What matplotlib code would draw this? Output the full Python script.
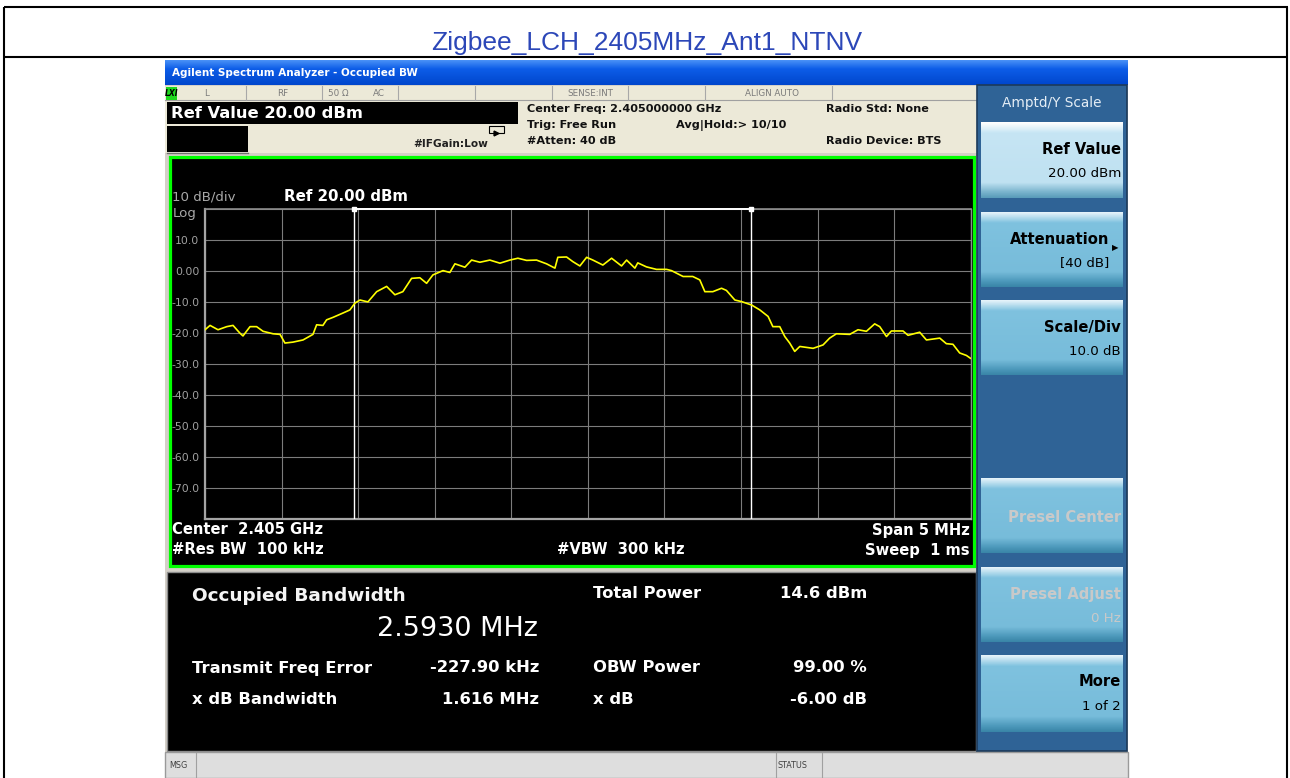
import numpy as np
import matplotlib.pyplot as plt
from matplotlib.patches import Rectangle
from matplotlib.colors import LinearSegmentedColormap

W, H = 1290, 778

# trace: offset from centre (MHz) and level (dBm)
freq_offset_mhz = [
    -2.500, -2.467, -2.415, -2.358, -2.317, -2.272, -2.252, -2.206, -2.163, -2.121,
    -2.056, -2.010, -1.978, -1.926, -1.860, -1.795, -1.771, -1.730, -1.706, -1.664,
    -1.599, -1.554, -1.521, -1.488, -1.436, -1.379, -1.314, -1.260, -1.208, -1.151,
    -1.097, -1.053, -1.012, -0.946, -0.901, -0.868, -0.803, -0.759, -0.705, -0.640,
    -0.574, -0.509, -0.457, -0.400, -0.335, -0.270, -0.215, -0.196, -0.139, -0.098,
    -0.052, -0.008, 0.033, 0.098, 0.155, 0.220, 0.253, 0.307, 0.326, 0.383,
    0.448, 0.514, 0.546, 0.622, 0.685, 0.731, 0.764, 0.816, 0.873, 0.905,
    0.960, 1.003, 1.069, 1.123, 1.177, 1.208, 1.253, 1.286, 1.318, 1.351,
    1.384, 1.471, 1.536, 1.579, 1.623, 1.710, 1.764, 1.819, 1.873, 1.906,
    1.950, 1.982, 2.058, 2.091, 2.167, 2.211, 2.298, 2.341, 2.384, 2.428,
    2.472, 2.498,
]
level_dbm = [
    -19.0, -17.6, -19.0, -18.0, -17.6, -20.1, -21.0, -18.0, -18.0, -19.5,
    -20.3, -20.5, -23.3, -23.0, -22.3, -20.5, -17.4, -17.6, -15.8, -15.0,
    -13.6, -12.6, -10.4, -9.4, -10.0, -6.7, -5.0, -7.7, -6.7, -2.4,
    -2.2, -4.0, -1.3, 0.1, -0.5, 2.3, 1.2, 3.5, 2.8, 3.5,
    2.5, 3.5, 4.1, 3.4, 3.5, 2.3, 0.9, 4.4, 4.5, 3.0,
    1.6, 4.4, 3.5, 1.9, 4.1, 1.6, 3.5, 0.9, 2.6, 1.3,
    0.5, 0.5, 0.1, -1.8, -1.8, -2.9, -6.7, -6.7, -5.6, -6.3,
    -9.4, -9.9, -11.0, -12.6, -14.7, -18.0, -18.0, -21.2, -23.3, -26.0,
    -24.4, -25.0, -23.9, -21.7, -20.3, -20.5, -19.0, -19.5, -17.1, -18.0,
    -21.2, -19.4, -19.4, -20.8, -19.8, -22.3, -21.7, -23.5, -23.7, -26.5,
    -27.3, -28.2,
]

center_ghz = 2.405
span_mhz = 5.0
ref_level = 20.0
db_per_div = 10.0
obw_mhz = 2.5930
freq_error_khz = -227.90
y_tick_labels = ["", "10.0", "0.00", "-10.0", "-20.0", "-30.0", "-40.0",
                 "-50.0", "-60.0", "-70.0", ""]

status_cells = ["L", "RF", "50 \u03a9", "AC", "SENSE:INT", "ALIGN AUTO"]
softkey_titles = ["Ref Value", "Attenuation", "Scale/Div",
                  "Presel Center", "Presel Adjust", "More"]
softkey_values = ["20.00 dBm", "[40 dB]", "10.0 dB", "", "0 Hz", "1 of 2"]

result_left = [("Transmit Freq Error", f"{freq_error_khz:.2f} kHz"),
               ("x dB Bandwidth", "1.616 MHz")]
result_right = [("Total Power", "14.6 dBm"),
                ("OBW Power", "99.00 %"),
                ("x dB", "-6.00 dB")]


def box(ax, x0, y0, x1, y1, z=1, **kw):
    ax.add_patch(Rectangle((x0, y0), x1 - x0, y1 - y0, zorder=z, **kw))


def gradient(ax, x0, y0, x1, y1, stops, z=2):
    cmap = LinearSegmentedColormap.from_list("g", stops)
    ax.imshow(np.linspace(0, 1, 100).reshape(-1, 1), cmap=cmap,
              extent=(x0, x1, y1, y0), aspect="auto", zorder=z)


fig = plt.figure(figsize=(W / 100, H / 100), dpi=100)
bg = fig.add_axes([0, 0, 1, 1])
bg.set_axis_off()

# document table around the screenshot
for xs, ys in [([4, 1288], [7, 7]), ([4, 1288], [57, 57]),
               ([4, 4], [7, 778]), ([1287, 1287], [7, 778])]:
    bg.plot(xs, ys, color="black", lw=1.5, solid_capstyle="butt")
bg.text(647, 43, "Zigbee_LCH_2405MHz_Ant1_NTNV", ha="center", va="center",
        fontsize=19, color="#2c47b8", family="Liberation Sans")

# analyser window
box(bg, 165, 60, 1128, 778, facecolor="#d4d0c8")
gradient(bg, 165, 60, 1128, 85,
         [(0, "#4a92f7"), (0.35, "#0d5de8"), (1, "#0046cc")])
bg.text(172, 73, "Agilent Spectrum Analyzer - Occupied BW", va="center",
        fontsize=7.5, fontweight="bold", color="white", zorder=3)

# status strip and header
box(bg, 165, 86, 977, 153, facecolor="#ece9d8", z=2)
bg.plot([165, 977], [100, 100], color="#a0a0a0", lw=0.8, zorder=3)
for x in [246, 322, 398, 475, 552, 628, 705, 832]:
    bg.plot([x, x], [86, 100], color="#a8a8a8", lw=0.8, zorder=3)
for x, s in zip([207, 283, 338, 379, 590, 772], status_cells):
    bg.text(x, 93, s, ha="center", va="center", fontsize=6.3,
            color="#7a7a7a", zorder=3)
box(bg, 166, 87, 177, 100, facecolor="#1fd81f", z=3)
bg.text(171.5, 93.5, "LXI", ha="center", va="center", fontsize=5.5,
        fontweight="bold", fontstyle="italic", zorder=4)

box(bg, 167, 102, 518, 124, facecolor="black", z=3)
box(bg, 167, 126, 248, 152, facecolor="black", z=3)
bg.plot([167, 248], [153, 153], color="#707070", lw=1, zorder=3)
bg.text(171, 113, f"Ref Value {ref_level:.2f} dBm", va="center", fontsize=11.8,
        fontweight="bold", color="white", zorder=4)
bg.text(413, 144, "#IFGain:Low", va="center", fontsize=7.6,
        fontweight="bold", color="#202020", zorder=4)
bg.add_patch(Rectangle((489, 126), 15, 7, fill=False, ec="black", lw=0.8,
                       zorder=4))
bg.plot([496], [133], marker=">", ms=3.5, color="black", zorder=5)

info = [(527, 109, f"Center Freq: {center_ghz:.9f} GHz"),
        (527, 125, "Trig: Free Run"), (527, 141, "#Atten: 40 dB"),
        (676, 125, "Avg|Hold:> 10/10"), (826, 109, "Radio Std: None"),
        (826, 141, "Radio Device: BTS")]
for x, y, s in info:
    bg.text(x, y, s, va="center", fontsize=8.1, fontweight="bold",
            color="#111111", zorder=4)

# graticule frame
box(bg, 169.5, 156.5, 973.5, 565.5, facecolor="black", edgecolor="#00ff00",
    lw=2.3, z=3)
bg.text(172, 197, f"{db_per_div:.0f} dB/div", va="center", fontsize=9.6,
        color="#a8a8a8", zorder=4)
bg.text(173, 213, "Log", va="center", fontsize=9.6, color="#a8a8a8", zorder=4)
bg.text(284, 196, f"Ref {ref_level:.2f} dBm", va="center", fontsize=10.8,
        fontweight="bold", color="white", zorder=4)
bg.text(172, 530, f"Center  {center_ghz:.3f} GHz", va="center",
        fontsize=10.6, fontweight="bold", color="white", zorder=4)
bg.text(172, 550, "#Res BW  100 kHz", va="center", fontsize=10.6,
        fontweight="bold", color="white", zorder=4)
bg.text(557, 550, "#VBW  300 kHz", va="center", fontsize=10.6,
        fontweight="bold", color="white", zorder=4)
bg.text(970, 530, f"Span {span_mhz:.0f} MHz", ha="right", va="center",
        fontsize=10.6, fontweight="bold", color="white", zorder=4)
bg.text(970, 550, "Sweep  1 ms", ha="right", va="center", fontsize=10.6,
        fontweight="bold", color="white", zorder=4)

# result panel
box(bg, 167, 572, 976, 751, facecolor="black", edgecolor="#8c8c8c", lw=1, z=3)
bg.text(192, 596, "Occupied Bandwidth", va="center", fontsize=13.3,
        fontweight="bold", color="#f4f4f4", zorder=4)
bg.text(538, 629, f"{obw_mhz:.4f} MHz", ha="right", va="center",
        fontsize=19.5, color="white", zorder=4)
for y, (name, val) in zip([668, 700], result_left):
    bg.text(192, y, name, va="center", fontsize=11.8, fontweight="bold",
            color="white", zorder=4)
    bg.text(539, y, val, ha="right", va="center", fontsize=11.8,
            fontweight="bold", color="white", zorder=4)
for y, (name, val) in zip([593, 668, 700], result_right):
    bg.text(593, y, name, va="center", fontsize=11.8, fontweight="bold",
            color="white", zorder=4)
    bg.text(867, y, val, ha="right", va="center", fontsize=11.8,
            fontweight="bold", color="white", zorder=4)

# message bar
box(bg, 165, 752, 1128, 778, facecolor="#dedede", edgecolor="#9a9a9a",
    lw=1, z=3)
for x in [196, 776, 822]:
    bg.plot([x, x], [753, 778], color="#a0a0a0", lw=0.8, zorder=4)
bg.text(169, 765, "MSG", va="center", fontsize=5.8, color="#404040", zorder=4)
bg.text(778, 765, "STATUS", va="center", fontsize=5.8, color="#404040",
        zorder=4)

# softkey panel
box(bg, 977, 85, 1127, 751, facecolor="#2f6396", edgecolor="#1c3a5a",
    lw=1.2, z=3)
bg.text(1052, 103, "Amptd/Y Scale", ha="center", va="center", fontsize=9.8,
        color="#e4edf5", zorder=4)
key_rows = [(122, 198), (212, 287), (300, 375), (478, 553), (567, 642),
            (655, 732)]
for i, ((y0, y1), title, value) in enumerate(zip(key_rows, softkey_titles,
                                                  softkey_values)):
    if i == 0:
        stops = [(0, "#ffffff"), (0.14, "#c6e5f4"), (0.8, "#bfe1f1"),
                 (0.92, "#7db6cf"), (1, "#5a9cba")]
    else:
        stops = [(0, "#e6f3fa"), (0.14, "#7fc2df"), (0.8, "#77bcda"),
                 (0.92, "#4f9bbd"), (1, "#3a86a8")]
    gradient(bg, 981, y0, 1123, y1, stops, z=4)
    txt = "#c9c9c9" if title.startswith("Presel") else "black"
    right = 1109 if title == "Attenuation" else 1121
    if value:
        bg.text(right, y0 + 27, title, ha="right", va="center", fontsize=10.6,
                fontweight="bold", color=txt, zorder=5)
        bg.text(right, y0 + 51, value, ha="right", va="center", fontsize=9.6,
                color=txt, zorder=5)
    else:
        bg.text(right, y0 + 39, title, ha="right", va="center", fontsize=10.6,
                fontweight="bold", color=txt, zorder=5)
bg.text(1112, 248, "\u25b6", ha="left", va="center", fontsize=6, zorder=5)

bg.set_xlim(0, W)
bg.set_ylim(H, 0)

# spectrum graticule
gx0, gx1, gy0, gy1 = 205, 970.7, 209, 518.6
ax = fig.add_axes([gx0 / W, 1 - gy1 / H, (gx1 - gx0) / W, (gy1 - gy0) / H])
ax.set_facecolor("black")
ax.set_xlim(-span_mhz / 2, span_mhz / 2)
ax.set_ylim(ref_level - 10 * db_per_div, ref_level)
ax.set_xticks(np.linspace(-span_mhz / 2, span_mhz / 2, 11))
ax.set_yticks(np.linspace(ref_level, ref_level - 10 * db_per_div, 11))
ax.set_yticklabels(y_tick_labels)
ax.grid(color="#7c7c7c", lw=0.8)
ax.tick_params(length=0, labelbottom=False, labelleft=True, pad=4,
               labelsize=7.8, labelcolor="#a0a0a0")
for side, col, lw in [("left", "#a4a4a4", 1.6), ("bottom", "#a4a4a4", 1.6),
                      ("top", "#8c8c8c", 1.2), ("right", "#8c8c8c", 1.0)]:
    ax.spines[side].set_color(col)
    ax.spines[side].set_linewidth(lw)

ax.plot(freq_offset_mhz, level_dbm, color="#ffff00", lw=1.2, zorder=4)

f_err = freq_error_khz / 1000
obw_edges = [f_err - obw_mhz / 2, f_err + obw_mhz / 2]
for f in obw_edges:
    ax.axvline(f, color="white", lw=1.0, zorder=3)
ax.plot(obw_edges, [ref_level, ref_level], color="white", lw=1.4,
        marker="s", ms=2.2, clip_on=False, zorder=5)

fig.savefig("out.png", dpi=100, facecolor="white")
